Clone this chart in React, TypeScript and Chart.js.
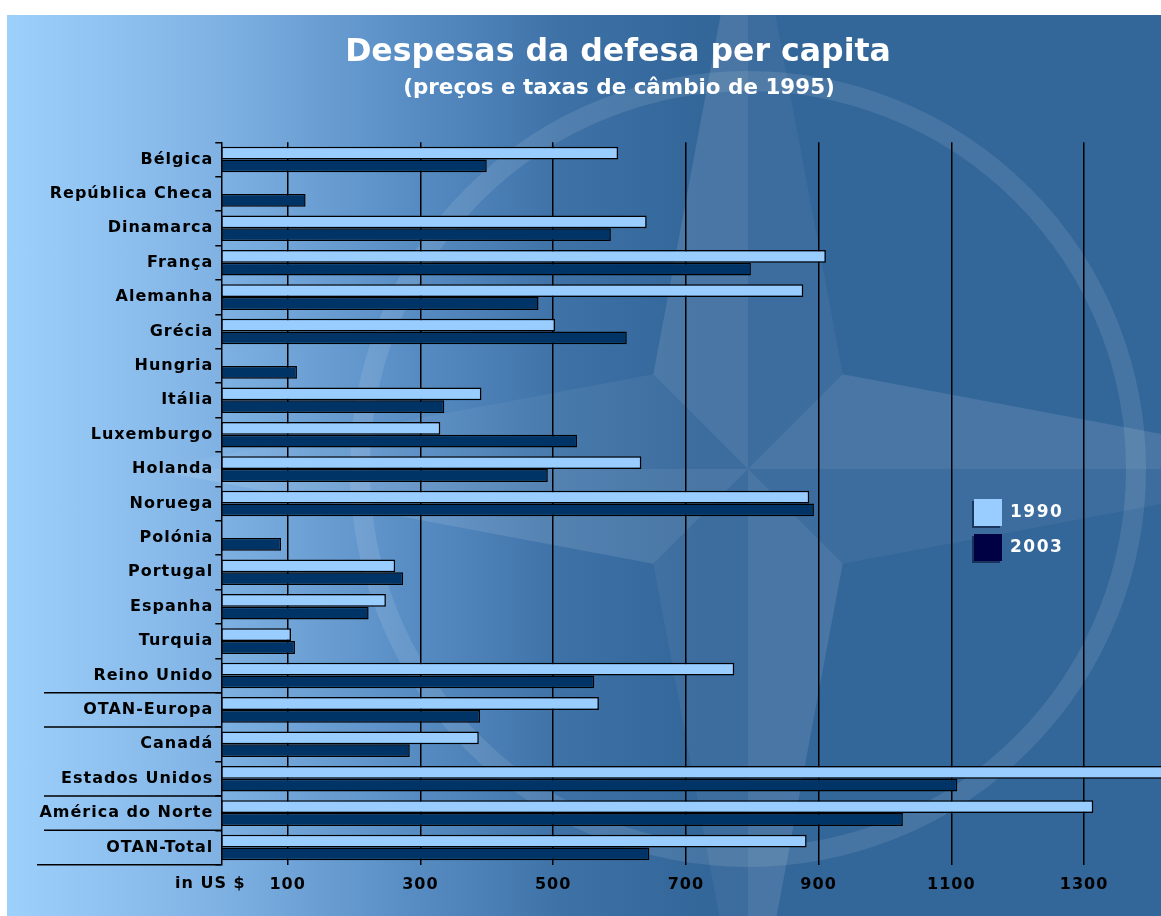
import React, { useEffect, useRef } from "react";
import { Chart, registerables } from "chart.js";

Chart.register(...registerables);

const categories = [
  "Bélgica",
  "República Checa",
  "Dinamarca",
  "França",
  "Alemanha",
  "Grécia",
  "Hungria",
  "Itália",
  "Luxemburgo",
  "Holanda",
  "Noruega",
  "Polónia",
  "Portugal",
  "Espanha",
  "Turquia",
  "Reino Unido",
  "OTAN-Europa",
  "Canadá",
  "Estados Unidos",
  "América do Norte",
  "OTAN-Total",
];

const values1990: (number | null)[] = [
  598, null, 641, 911, 877, 503, null, 392, 330, 633, 886, null, 262, 248, 105, 773, 569, 388, 1480, 1314, 882,
];
const values2003: (number | null)[] = [
  400, 127, 587, 798, 478, 611, 114, 336, 536, 492, 893, 90, 274, 222, 111, 562, 390, 284, 1109, 1027, 645,
];

const seriesLabels = ["1990", "2003"];
const xTicks = [100, 300, 500, 700, 900, 1100, 1300];
const xMin = 0;
const xMax = 1416;
// group separators (long lines) after these category indices
const separatorAfter = [15, 16, 18, 19, 20];

const titleText = "Despesas da defesa per capita";
const subtitleText = "(preços e taxas de câmbio de 1995)";
const unitText = "in US $";

const COLOR_1990 = "#99ccff";
const COLOR_2003 = "#003366";
const LEGEND_2003 = "#000044";
const FONT = '"DejaVu Sans", Verdana, sans-serif';

function fitFont(ctx: CanvasRenderingContext2D, text: string, width: number, weight = "bold") {
  ctx.font = `${weight} 30px ${FONT}`;
  const w = ctx.measureText(text).width;
  const size = (30 * width) / w;
  ctx.font = `${weight} ${size}px ${FONT}`;
  return size;
}

const decorPlugin = {
  id: "decor",
  beforeDraw(chart: any) {
    const ctx: CanvasRenderingContext2D = chart.ctx;
    ctx.save();
    // compass rose watermark
    const cx = 741;
    const cy = 454;
    const tipR = 600;
    const innerR = 134;
    const dirs = [-Math.PI / 2, 0, Math.PI / 2, Math.PI];
    dirs.forEach((a) => {
      const tip = [cx + Math.cos(a) * tipR, cy + Math.sin(a) * tipR];
      const v1 = [cx + Math.cos(a - Math.PI / 4) * innerR, cy + Math.sin(a - Math.PI / 4) * innerR];
      const v2 = [cx + Math.cos(a + Math.PI / 4) * innerR, cy + Math.sin(a + Math.PI / 4) * innerR];
      ctx.fillStyle = "rgba(255,255,255,0.11)";
      ctx.beginPath();
      ctx.moveTo(cx, cy);
      ctx.lineTo(v1[0], v1[1]);
      ctx.lineTo(tip[0], tip[1]);
      ctx.closePath();
      ctx.fill();
      ctx.fillStyle = "rgba(255,255,255,0.05)";
      ctx.beginPath();
      ctx.moveTo(cx, cy);
      ctx.lineTo(tip[0], tip[1]);
      ctx.lineTo(v2[0], v2[1]);
      ctx.closePath();
      ctx.fill();
    });
    ctx.strokeStyle = "rgba(255,255,255,0.1)";
    ctx.lineWidth = 20;
    ctx.beginPath();
    ctx.arc(cx, cy, 388, 0, Math.PI * 2);
    ctx.stroke();
    ctx.restore();
    (ctx as any).letterSpacing = "1px";
  },
  afterDraw(chart: any) {
    const ctx: CanvasRenderingContext2D = chart.ctx;
    (ctx as any).letterSpacing = "0px";
    ctx.save();
    const yScale = chart.scales.y;
    const area = chart.chartArea;

    // long separator lines on the left
    ctx.strokeStyle = "#000";
    ctx.lineWidth = 1.5;
    separatorAfter.forEach((i) => {
      let y: number;
      if (i >= categories.length - 1) {
        y = area.bottom;
      } else {
        y = (yScale.getPixelForTick(i) + yScale.getPixelForTick(i + 1)) / 2;
      }
      const x0 = i >= categories.length - 1 ? 30 : 37;
      ctx.beginPath();
      ctx.moveTo(x0, y);
      ctx.lineTo(area.left, y);
      ctx.stroke();
    });

    // title & subtitle
    ctx.fillStyle = "#ffffff";
    ctx.textAlign = "center";
    ctx.textBaseline = "middle";
    fitFont(ctx, titleText, 546);
    ctx.fillText(titleText, 611, 38);
    fitFont(ctx, subtitleText, 432);
    ctx.fillText(subtitleText, 612, 73);

    // unit label
    (ctx as any).letterSpacing = "1px";
    ctx.fillStyle = "#000";
    ctx.textAlign = "left";
    ctx.font = `bold 16px ${FONT}`;
    ctx.fillText(unitText, 168, 869);

    // legend
    const colors = [COLOR_1990, LEGEND_2003];
    const lx = 967;
    const ly = [484, 519];
    ctx.font = `bold 17px ${FONT}`;
    (ctx as any).letterSpacing = "1.5px";
    seriesLabels.forEach((lab, k) => {
      ctx.fillStyle = "rgba(0,10,40,0.55)";
      ctx.fillRect(lx - 2, ly[k] + 2, 28, 27);
      ctx.fillStyle = colors[k];
      ctx.fillRect(lx, ly[k], 28, 27);
      ctx.fillStyle = "#ffffff";
      ctx.fillText(lab, 1003, ly[k] + 14);
    });
    (ctx as any).letterSpacing = "0px";
    ctx.restore();
  },
};

export default function App() {
  const canvasRef = useRef<HTMLCanvasElement>(null);

  useEffect(() => {
    if (!canvasRef.current) return;
    const chart = new Chart(canvasRef.current, {
      type: "bar",
      data: {
        labels: categories,
        datasets: [
          {
            label: seriesLabels[0],
            data: values1990,
            backgroundColor: COLOR_1990,
            borderColor: "#000",
            borderWidth: 1.5,
            borderSkipped: false,
          },
          {
            label: seriesLabels[1],
            data: values2003,
            backgroundColor: COLOR_2003,
            borderColor: "#000",
            borderWidth: 1.5,
            borderSkipped: false,
          },
        ],
      },
      options: {
        indexAxis: "y",
        animation: false,
        responsive: true,
        maintainAspectRatio: false,
        layout: { padding: { top: 127.3, left: 0, right: 0, bottom: 0 } },
        datasets: {
          bar: { categoryPercentage: 0.745, barPercentage: 1.0 },
        },
        plugins: {
          legend: { display: false },
          tooltip: { enabled: false },
          title: { display: false },
        },
        scales: {
          x: {
            type: "linear",
            position: "bottom",
            min: xMin,
            max: xMax,
            afterBuildTicks: (scale: any) => {
              scale.ticks = xTicks.map((v) => ({ value: v }));
            },
            afterFit: (scale: any) => {
              scale.height = 51.3;
            },
            grid: {
              color: "#000",
              lineWidth: 1.5,
              drawTicks: false,
            },
            border: { display: false },
            ticks: {
              color: "#000",
              padding: 11,
              font: { family: FONT, weight: "bold", size: 16 },
              callback: (v: any) => String(v),
            },
          },
          y: {
            type: "category",
            position: "left",
            afterFit: (scale: any) => {
              scale.width = 214.3;
            },
            grid: {
              drawOnChartArea: false,
              drawTicks: true,
              tickLength: 6,
              color: "#000",
              lineWidth: 1.5,
            },
            border: { display: true, color: "#000", width: 1.5 },
            ticks: {
              color: "#000",
              padding: 2,
              autoSkip: false,
              font: { family: FONT, weight: "bold", size: 16 },
            },
          },
        },
      } as any,
      plugins: [decorPlugin as any],
    });
    return () => chart.destroy();
  }, []);

  return (
    <div
      style={{
        position: "absolute",
        left: 7,
        top: 15,
        width: 1154,
        height: 901,
        background:
          "linear-gradient(to right, #9dd0fb 0%, #80b3e4 18%, #5a8fc6 34%, #3e72a7 48%, #336699 60%, #336699 100%)",
        overflow: "hidden",
      }}
    >
      <canvas ref={canvasRef} style={{ display: "block" }} />
    </div>
  );
}
